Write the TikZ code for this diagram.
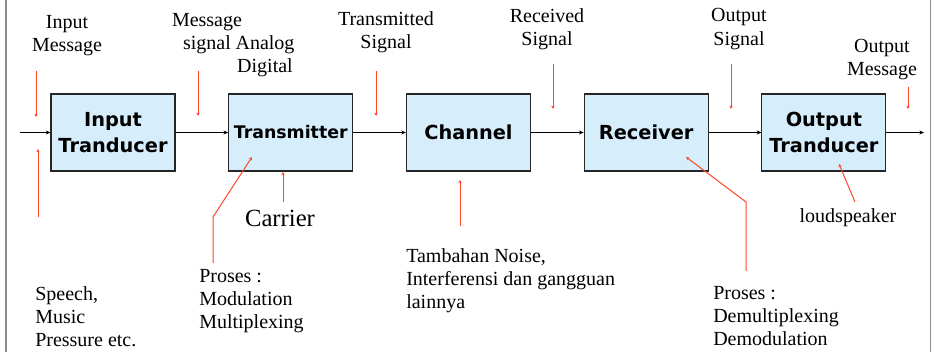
\documentclass[tikz,border=0pt]{standalone}
\usepackage{fontspec}
\setmainfont{Liberation Serif}
\newfontfamily\blockfont{DejaVu Sans}
\usetikzlibrary{positioning, arrows.meta}

\definecolor{blockfill}{RGB}{214,238,252}
\definecolor{pointred}{RGB}{255,70,40}
\definecolor{framegrey}{RGB}{140,140,140}

\begin{document}
\begin{tikzpicture}[x=0.75pt, y=-0.75pt, node distance=133.3pt, on grid,
  block/.style={draw=black!85, fill=blockfill, line width=0.8pt, minimum width=93pt,
    minimum height=57.75pt, inner sep=0pt, align=center,
    font=\blockfont\bfseries\fontsize{14.5}{19.5}\selectfont},
  caption/.style={align=center, inner sep=0pt, font=\fontsize{15}{17.4}\selectfont},
  remark/.style={caption, align=left, anchor=west},
  flow/.style={-{Stealth[length=3.5pt,width=3pt]}, line width=0.75pt},
  pointer/.style={pointred, line width=0.75pt, -{Stealth[length=2.5pt,width=2.5pt]}}]
  \useasboundingbox (0,0) rectangle (933,352);
  \draw[framegrey, line width=1.1pt] (6,0) -- (6,352) (930.5,0) -- (930.5,352);

  % blocks of the chain
  \node[block] (inp) at (113,132.5) {Input\\Tranducer};
  \node[block, font=\blockfont\bfseries\fontsize{13}{16}\selectfont] (tx) [right=of inp] {Transmitter};
  \node[block] (ch) [right=of tx] {Channel};
  \node[block] (rx) [right=of ch] {Receiver};
  \node[block] (out) [right=of rx] {Output\\Tranducer};

  \coordinate (src) at (20,132.5);
  \coordinate (sink) at (924,132.5);
  \draw[flow] (src) -- (inp);
  \draw[flow] (inp) -- (tx);
  \draw[flow] (tx) -- (ch);
  \draw[flow] (ch) -- (rx);
  \draw[flow] (rx) -- (out);
  \draw[flow] (out) -- (sink);

  % texts
  \node[caption] (inmsg) at (67,36) {Input\\Message};
  \node[caption] (msgsig) at (207,33.5) {Message\\signal};
  \node[caption] (anadig) at (265,56.5) {Analog\\Digital};
  \node[caption] (txsig) at (386,32) {Transmitted\\Signal};
  \node[caption] (rxsig) at (547,29) {Received\\Signal};
  \node[caption] (outsig) at (739,29) {Output\\Signal};
  \node[caption] (outmsg) at (882,59.5) {Output\\Message};
  \node[caption, font=\fontsize{18.5}{22}\selectfont] (carrier) at (280,218) {Carrier};
  \node[caption] (spk) at (848,218) {loudspeaker};
  \node[remark] (speech) at (35,316.5) {Speech,\\Music\\Pressure etc.};
  \node[remark] (modnote) at (199,301) {Proses :\\Modulation\\Multiplexing};
  \node[remark] (noise) at (406,280.5) {Tambahan Noise,\\Interferensi dan gangguan\\lainnya};
  \node[remark] (demodnote) at (713,316) {Proses :\\Demultiplexing\\Demodulation};

  % red pointers
  \foreach \n/\x/\ya/\yb in {a/36/71/117, b/38/217/149, c/198/71/116, d/283/202/172,
      e/376/71/116, f/460/226/180, g/553/64/109, h/731/64/109, k/908/87/109} {
    \coordinate (tail\n) at (\x,\ya);
    \coordinate (tip\n) at (\x,\yb);
    \draw[pointer] (tail\n) -- (tip\n);
  }
  \coordinate (modfoot) at (213,263);
  \coordinate (modbend) at (213,217);
  \coordinate (modtip) at (252,157);
  \draw[pointer] (modfoot) -- (modbend) -- (modtip);
  \coordinate (demodfoot) at (746,271);
  \coordinate (demodbend) at (746,202);
  \coordinate (demodtip) at (686,157);
  \draw[pointer] (demodfoot) -- (demodbend) -- (demodtip);
  \coordinate (spktail) at (855,202);
  \coordinate (spktip) at (839,164);
  \draw[pointer] (spktail) -- (spktip);
\end{tikzpicture}
\end{document}
